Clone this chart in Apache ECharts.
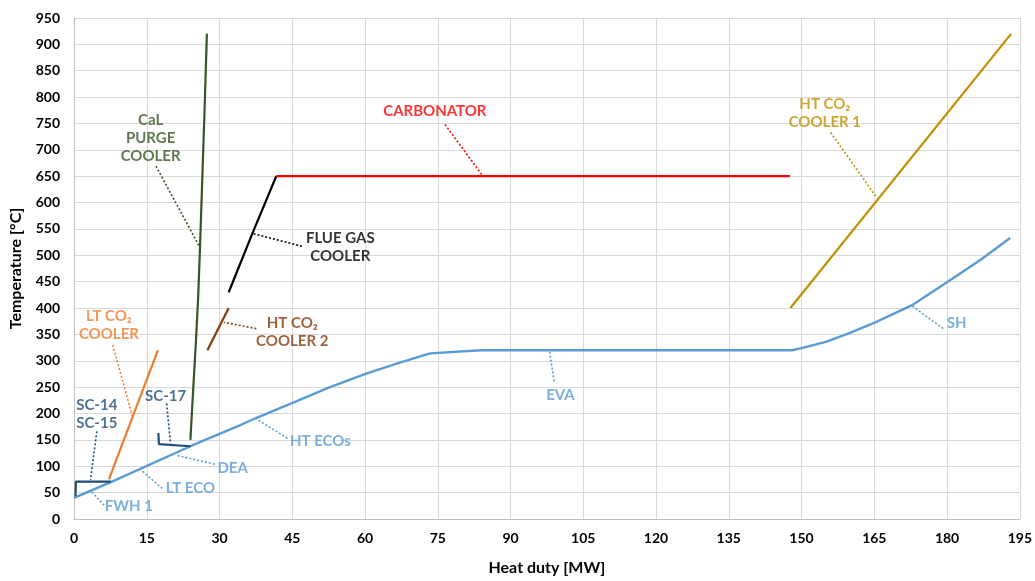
<!DOCTYPE html>
<html><head><meta charset="utf-8">
<script src="https://cdn.jsdelivr.net/npm/echarts@6/dist/echarts.min.js"></script>
<style>html,body{margin:0;padding:0;background:#fff;overflow:hidden}#c{width:100vw;height:100vh}</style>
</head><body><div id="c"></div>
<script>
// ---- data (Heat duty [MW], Temperature [°C]) ----
var steamCycle = [[0,40],[7.6,70],[24,138],[34.3,178],[37.4,191],[45.3,221],[52.5,249],[60.4,276],[67,296],[73.4,314],[84,320],[148,320],[150,324],[155,336],[160,353],[165.2,373],[172.7,405],[181,455],[187,492],[193,533]];
var calPurgeCooler = [[24.0,150],[24.6,250],[25.1,330],[25.6,420],[26.0,520],[26.5,660],[26.9,770],[27.4,920]];
var flueGasCooler = [[31.9,430],[36.8,542],[41.7,650]];
var carbonator = [[41.7,650],[147.6,650]];
var htCo2Cooler2 = [[27.5,320],[31.9,400]];
var htCo2Cooler1 = [[147.7,400],[193.2,920]];
var ltCo2Cooler = [[7.2,75],[17.3,320]];
var sc14sc15 = [[7.6,71],[0.4,71],[0.3,43]];
var sc17 = [[17.4,163],[17.5,142],[24,138]];

// annotations: [text, labelQ, labelT, leaderFromQ, leaderFromT, leaderToQ, leaderToT, colour]
var annotations = [
  ['CaL\nPURGE\nCOOLER', 15.8, 723, 16.9, 669, 25.9, 516, '#375623'],
  ['CARBONATOR', 74.4, 774, 76.5, 748, 84.3, 650, '#FF0000'],
  ['FLUE GAS\nCOOLER', 54.9, 516, 47.0, 517, 36.6, 542, '#000000'],
  ['HT CO\u2082\nCOOLER 2', 45.0, 355, 37.6, 361, 30.9, 373, '#843C0C'],
  ['LT CO\u2082\nCOOLER', 7.2, 368, 8.0, 330, 12.0, 196, '#ED7D31'],
  ['SC-14\nSC-15', 4.7, 198, 4.7, 166, 3.4, 74, '#1F4E79'],
  ['SC-17', 18.9, 232, 19.1, 219, 19.9, 143, '#1F4E79'],
  ['DEA', 32.7, 96, 29.0, 104, 21.0, 121, '#5B9BD5'],
  ['LT ECO', 24.0, 58, 18.2, 58, 13.8, 93, '#5B9BD5'],
  ['FWH 1', 11.3, 25, 6.2, 26, 3.5, 53, '#5B9BD5'],
  ['HT ECOs', 50.8, 147, 44.0, 153, 37.4, 191, '#5B9BD5'],
  ['EVA', 100.3, 234, 99.0, 261, 98.0, 320, '#5B9BD5'],
  ['SH', 182.0, 372, 179.2, 361, 172.5, 406, '#5B9BD5'],
  ['HT CO\u2082\nCOOLER 1', 154.8, 770, 156.0, 733, 165.3, 612, '#BF9000']
];

var xTicks = {min:0, max:195, interval:15};
var yTicks = {min:0, max:950, interval:50};

var FONT = 'Lato, "Open Sans", sans-serif';
var chart = echarts.init(document.getElementById('c'), null, {renderer:'canvas'});

function curve(name, data, color, w) {
  return {name:name, type:'line', data:data, symbol:'none', smooth:false, z:3,
    lineStyle:{color:color, width:w||2.2}, silent:true};
}
var series = [
  curve('Steam cycle', steamCycle, '#5B9BD5', 2.4),
  curve('CaL purge cooler', calPurgeCooler, '#375623'),
  curve('Flue gas cooler', flueGasCooler, '#000000'),
  curve('Carbonator', carbonator, '#FF0000'),
  curve('HT CO2 cooler 2', htCo2Cooler2, '#843C0C'),
  curve('HT CO2 cooler 1', htCo2Cooler1, '#BF9000'),
  curve('LT CO2 cooler', ltCo2Cooler, '#ED7D31'),
  curve('SC-14/SC-15', sc14sc15, '#1F4E79'),
  curve('SC-17', sc17, '#1F4E79')
];
annotations.forEach(function(a){
  series.push({type:'line', data:[[a[3],a[4]],[a[5],a[6]]], symbol:'none', z:2, silent:true,
    lineStyle:{color:a[7], width:1.6, type:[2,2]}});
});
series.push({type:'scatter', symbolSize:0, z:5, silent:true,
  data: annotations.map(function(a){ return {value:[a[1],a[2]], name:a[0], label:{color:a[7]}}; }),
  label:{show:true, position:'inside', formatter:function(p){return p.data.name;},
    fontFamily:FONT, fontWeight:'bold', fontSize:15, lineHeight:18, align:'center', verticalAlign:'middle'},
  itemStyle:{color:'transparent'}
});

chart.setOption({
  animation:false,
  backgroundColor:'#fff',
  grid:{left:73, right:15, top:18, bottom:56, containLabel:false},
  xAxis:{type:'value', min:xTicks.min, max:xTicks.max, interval:xTicks.interval,
    name:'Heat duty [MW]', nameLocation:'middle', nameGap:41,
    nameTextStyle:{fontFamily:FONT, fontWeight:'bold', fontSize:16, color:'#000'},
    axisLine:{show:true, lineStyle:{color:'#bfbfbf'}}, axisTick:{show:false},
    axisLabel:{fontFamily:FONT, fontWeight:'bold', fontSize:14, color:'#000', margin:12},
    splitLine:{show:true, lineStyle:{color:'#d9d9d9', width:1}}},
  yAxis:{type:'value', min:yTicks.min, max:yTicks.max, interval:yTicks.interval,
    name:'Temperature [°C]', nameLocation:'middle', nameGap:50,
    nameTextStyle:{fontFamily:FONT, fontWeight:'bold', fontSize:16, color:'#000'},
    axisLine:{show:true, lineStyle:{color:'#bfbfbf'}}, axisTick:{show:false},
    axisLabel:{fontFamily:FONT, fontWeight:'bold', fontSize:14, color:'#000', margin:14},
    splitLine:{show:true, lineStyle:{color:'#d9d9d9', width:1}}},
  series:series
});
</script></body></html>
